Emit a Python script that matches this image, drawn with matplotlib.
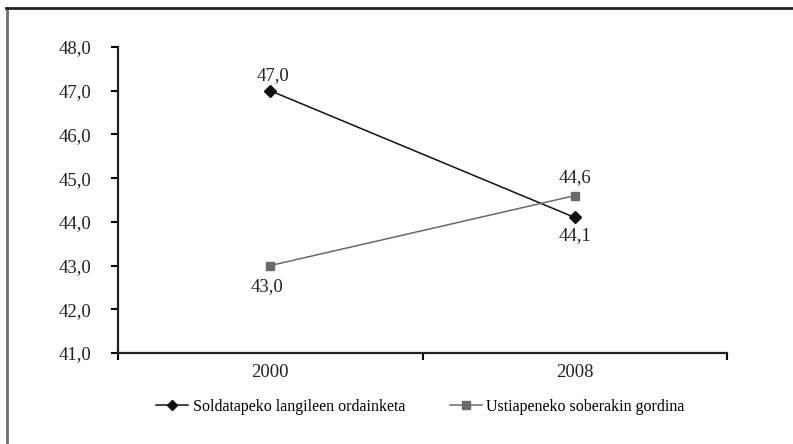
import matplotlib.pyplot as plt
from matplotlib.lines import Line2D

years = ["2000", "2008"]
soldata = [47.0, 44.1]
ustiapen = [43.0, 44.6]
series_names = ["Soldatapeko langileen ordainketa", "Ustiapeneko soberakin gordina"]
yticks = [41, 42, 43, 44, 45, 46, 47, 48]

plt.rcParams['font.family'] = ['Liberation Serif', 'DejaVu Serif']

fig = plt.figure(figsize=(7.93, 4.44), dpi=100)
ax = fig.add_axes([118 / 793, 1 - 353 / 444, (727 - 118) / 793, (353 - 47) / 444])

x = [1, 2]
ax.plot(x, soldata, color="#111111", lw=1.1, marker="D", ms=6, label=series_names[0])
ax.plot(x, ustiapen, color="#6a6a6a", lw=1.1, marker="s", ms=6, label=series_names[1])

def fmt(v):
    return f"{v:.1f}".replace(".", ",")

# data labels: above or below depending on position
ax.annotate(fmt(soldata[0]), (1, soldata[0]), xytext=(2, 5), textcoords="offset points",
            ha="center", va="bottom", fontsize=13.5, color="#222222")
ax.annotate(fmt(soldata[1]), (2, soldata[1]), xytext=(0, -7), textcoords="offset points",
            ha="center", va="top", fontsize=13.5, color="#222222")
ax.annotate(fmt(ustiapen[0]), (1, ustiapen[0]), xytext=(-2, -9), textcoords="offset points",
            ha="center", va="top", fontsize=13.5, color="#222222")
ax.annotate(fmt(ustiapen[1]), (2, ustiapen[1]), xytext=(0, 7), textcoords="offset points",
            ha="center", va="bottom", fontsize=13.5, color="#222222")

ax.set_xlim(0.5, 2.5)
ax.set_ylim(41, 48)
ax.set_yticks(yticks)
ax.set_yticklabels([fmt(v) for v in yticks], fontsize=13.5, color="#222222")
ax.set_xticks([0.5, 1.5, 2.5])
ax.set_xticklabels([])
ax.set_xticks(x, minor=True)
ax.set_xticklabels(years, minor=True, fontsize=13.5, color="#222222")
ax.tick_params(axis="x", which="minor", length=0, pad=8)
ax.tick_params(axis="x", which="major", length=5, width=1.5, direction="out")
ax.tick_params(axis="y", length=5, width=1.5, direction="out", pad=14)

for s in ["top", "right"]:
    ax.spines[s].set_visible(False)
for s in ["left", "bottom"]:
    ax.spines[s].set_linewidth(1.6)
    ax.spines[s].set_color("#222222")

fig.legend(loc="center", bbox_to_anchor=(0.53, 1 - 407 / 444), ncol=2, frameon=False,
           fontsize=11.5, handlelength=2.0, columnspacing=2.8, handletextpad=0.3,
           markerscale=0.85)

# outer frame lines (left and top only)
fig.add_artist(Line2D([6.5 / 793, 6.5 / 793], [0, 1 - 8 / 444], transform=fig.transFigure,
                      color="#707070", lw=2))
fig.add_artist(Line2D([6 / 793, 1], [1 - 8.5 / 444, 1 - 8.5 / 444], transform=fig.transFigure,
                      color="#222222", lw=2))

fig.savefig("out.png", dpi=100, facecolor="white")
